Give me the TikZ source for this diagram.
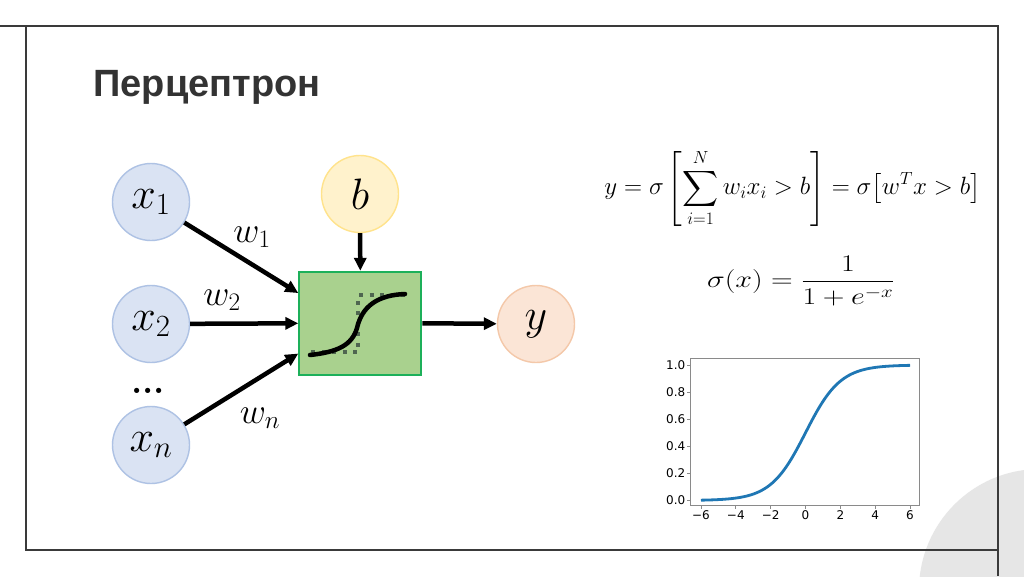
\RequirePackage{fix-cm}
\documentclass[tikz,border=0pt]{standalone}
\usepackage{amsmath,amssymb}
\usepackage{fontspec}
\newfontfamily\titlefont{Liberation Sans}
\newfontfamily\tickfont{DejaVu Sans}
\usetikzlibrary{arrows.meta}
\usepackage{xcolor}
\definecolor{framegray}{HTML}{3A3A3A}
\definecolor{titlegray}{HTML}{333333}
\definecolor{cornergray}{HTML}{E6E6E6}
\definecolor{infill}{HTML}{DAE3F3}
\definecolor{inedge}{HTML}{AEC2E4}
\definecolor{biasfill}{HTML}{FFF2CC}
\definecolor{biasedge}{HTML}{FFE38C}
\definecolor{outfill}{HTML}{FBE5D6}
\definecolor{outedge}{HTML}{F4C8A9}
\definecolor{actfill}{HTML}{A9D18E}
\definecolor{actedge}{HTML}{1DB05A}
\definecolor{stepgray}{HTML}{4F6650}
\definecolor{plotblue}{HTML}{1F77B4}
\definecolor{axisgray}{HTML}{8A8A8A}

\begin{document}
\begin{tikzpicture}[x=1pt, y=-1pt, >={Triangle[length=13pt, width=12pt]},
  frame/.style={draw=framegray, line width=2.4pt},
  unit/.style={circle, line width=1.4pt, minimum size=77pt, inner sep=0pt,
    font=\fontsize{44}{44}\selectfont},
  wire/.style={->, line width=4.5pt},
  wlab/.style={font=\fontsize{36}{36}\selectfont},
  tick/.style={font=\tickfont\fontsize{12}{12}\selectfont, inner sep=1pt}]
  \useasboundingbox (0,0) rectangle (1024,576);
  \fill[white] (0,0) rectangle (1024,576);
  \begin{scope}
    \clip (0,0) rectangle (1024,576);
    \fill[cornergray] (1040,590) circle (121);
  \end{scope}
  \draw[frame] (0,26) -- (998,26) -- (998,576);
  \draw[frame] (26,26) -- (26,550) -- (998,550);

  \node[anchor=base west, text=titlegray, font=\titlefont\bfseries\fontsize{38}{38}\selectfont]
    (title) at (90,96.7) {Перцептрон};

  % perceptron
  \node[unit, draw=inedge, fill=infill] (x1) at (151,202) {$x_1$};
  \node[unit, draw=inedge, fill=infill] (x2) at (151,324) {$x_2$};
  \node[unit, draw=inedge, fill=infill] (xn) at (151,445) {$x_n$};
  \node[font=\fontsize{36}{36}\selectfont\bfseries] (dots) at (148,391) {...};
  \node[unit, draw=biasedge, fill=biasfill] (b) at (360,194) {$b$};
  \node[unit, draw=outedge, fill=outfill] (y) at (536,324) {$y$};
  \node[draw=actedge, fill=actfill, line width=2pt, minimum width=122pt,
    minimum height=103pt, inner sep=0pt] (box) at (360.3,323.3) {};
  \draw[stepgray, line width=4pt, dash pattern=on 4pt off 6.5pt]
    (311,352) -- (358,352) -- (358,295) -- (406,295);
  \draw[line width=4.5pt, line cap=round] (310,355) .. controls (338,352) and (352,345) .. (357,328)
    .. controls (362,306) and (378,295) .. (405,294);

  \draw[wire] (x1) -- (box.154);
  \draw[wire] (x2) -- (box.west);
  \draw[wire] (xn) -- (box.206);
  \draw[wire] (b) -- (box.north);
  \draw[wire] (box.east) -- (y);
  \node[wlab] (w1) at (252,237) {$w_1$};
  \node[wlab] (w2) at (222,300) {$w_2$};
  \node[wlab] (wn) at (260,418) {$w_n$};

  % formulas
  \node[font=\fontsize{25}{30}\selectfont] (eqy) at (792.5,188)
    {$\displaystyle y=\sigma\left[\sum_{i=1}^{N} w_i x_i > b\right] = \sigma\bigl[w^T x > b\bigr]$};
  \node[font=\fontsize{24}{28}\selectfont] (eqs) at (801,281)
    {\scalebox{1.25}[1]{$\displaystyle \sigma(x) = \frac{1}{1+e^{-x}}$}};

  % sigmoid plot
  \draw[axisgray, line width=1pt] (690.5,358) rectangle (919.5,505.5);
  \foreach \v/\t [count=\i] in {-6/−6,-4/−4,-2/−2,0/0,2/2,4/4,6/6}{
    \draw[axisgray, line width=0.8pt] ({805.5+17.42*\v},505.5) -- ++(0,3.5);
    \node[tick, anchor=north] (xt\i) at ({805.5+17.42*\v},509.5) {\t};
  }
  \foreach \v [count=\i] in {0.0,0.2,0.4,0.6,0.8,1.0}{
    \draw[axisgray, line width=0.8pt] (690.5,{500.5-135.5*\v}) -- ++(-3.5,0);
    \node[tick, anchor=east] (yt\i) at (686.5,{500.5-135.5*\v}) {\v};
  }
  \draw[plotblue, line width=2.8pt] plot[domain=-6:6, samples=80, smooth]
    ({805.5+17.42*\x},{500.5-135.5/(1+exp(-\x))});
\end{tikzpicture}
\end{document}
